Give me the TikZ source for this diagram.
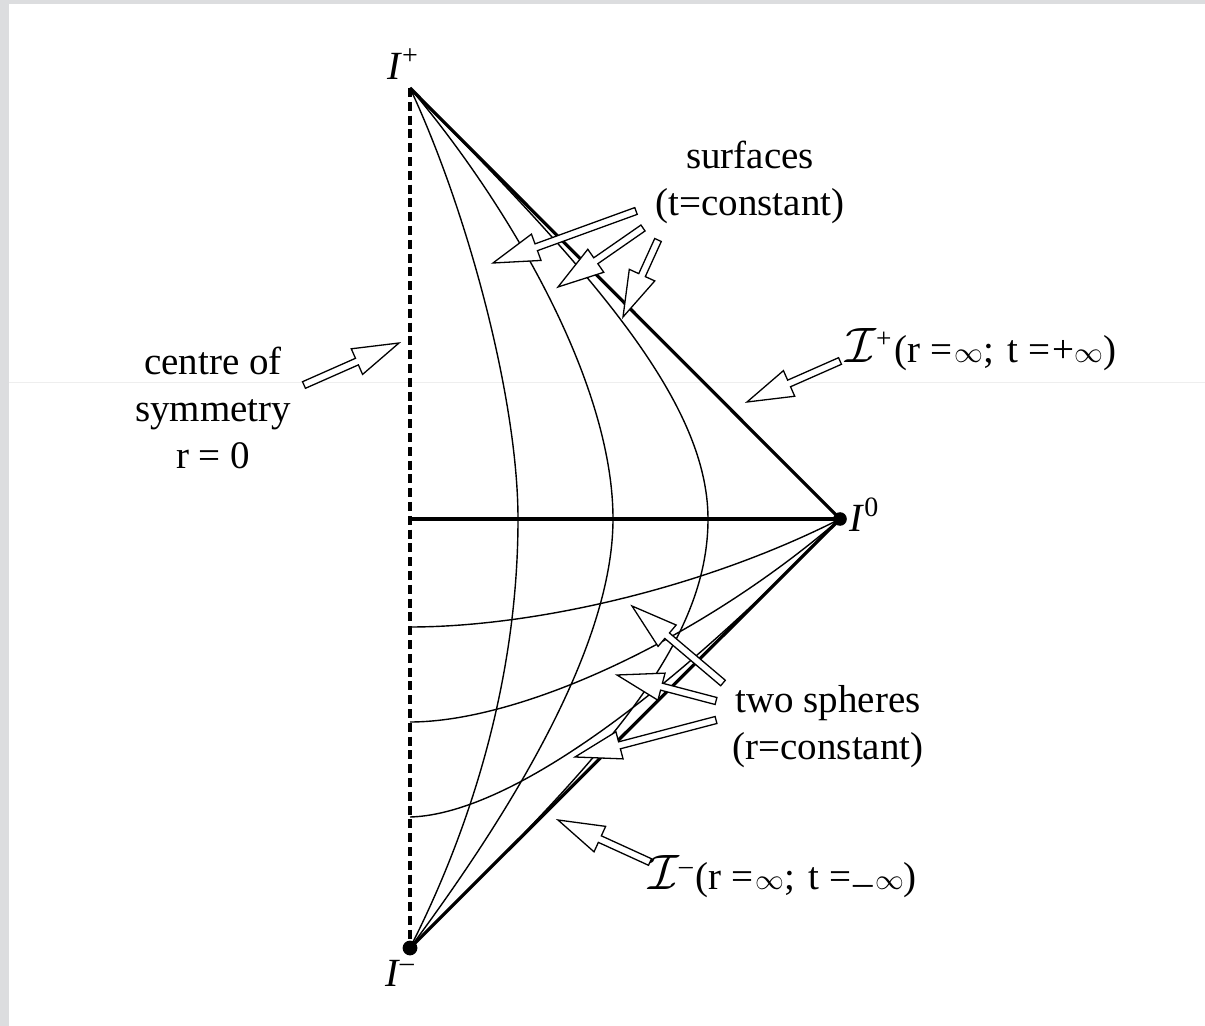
\documentclass[tikz,border=0pt]{standalone}
\usepackage{fontspec}
\setmainfont{Liberation Serif}
\usetikzlibrary{calc}
\definecolor{bordergray}{RGB}{220,221,223}
\definecolor{faintline}{RGB}{238,238,238}
\newcommand\arrHalfW{1.8pt}
\newcommand\arrHeadW{7pt}
\newcommand\arrHeadL{23pt}
\newcommand\holarrow[2]{%
  \coordinate (hbA) at ($(#2)!\arrHeadL!(#1)$);
  \draw[arrowline] ($(#1)!\arrHalfW!90:(#2)$) -- ($(hbA)!\arrHalfW!-90:(#1)$)
    -- ($(hbA)!\arrHeadW!-90:(#1)$) -- (#2) -- ($(hbA)!\arrHeadW!90:(#1)$)
    -- ($(hbA)!\arrHalfW!90:(#1)$) -- ($(#1)!\arrHalfW!-90:(#2)$) -- cycle;}
\newcommand\sinf{{\fontsize{14}{14}\selectfont$\infty$}}
\begin{document}
\begin{tikzpicture}[x=0.5pt,y=-0.5pt,
  thinc/.style={line width=0.7pt},
  edgeline/.style={line width=1.6pt},
  arrowline/.style={draw=black, line width=0.65pt, fill=white, line join=miter},
  lbl/.style={font=\fontsize{19.5}{23.5}\selectfont, inner sep=0pt, align=center},
  ilbl/.style={font=\fontsize{20}{22}\selectfont, inner sep=0pt}]
\useasboundingbox (0,0) rectangle (1205,1026);
\fill[bordergray] (0,0) rectangle (1205,1026);
\fill[white] (9,4) rectangle (1205,1026);
\draw[faintline, line width=0.5pt] (9,383) -- (1205,383);

% key points
\coordinate (Ip) at (410,88);
\coordinate (Iz) at (840,519);
\coordinate (Im) at (410,948);
\coordinate (Oc) at (410,519);

% t-curves (from I+ to I-)
\draw[thinc] (Ip) .. controls (468,212) and (518,400) .. (518,519)
                  .. controls (518,680) and (470,830) .. (Im);
\draw[thinc] (Ip) .. controls (505,200) and (613,380) .. (613,519)
                  .. controls (613,640) and (520,800) .. (Im);
\draw[thinc] (Ip) .. controls (588,268) and (708,400) .. (708,519)
                  .. controls (708,650) and (592,768) .. (Im);
% r-curves (from axis to I0)
\draw[thinc] (410,627) .. controls (530,627) and (700,590) .. (Iz);
\draw[thinc] (410,722) .. controls (520,722) and (700,640) .. (Iz);
\draw[thinc] (410,817) .. controls (490,815) and (630,735) .. (Iz);

% boundaries
\draw[edgeline] (Ip) -- (Iz);
\draw[edgeline] (Oc) -- (Iz);
\draw[edgeline] (Im) -- (Iz);
\draw[line width=1.8pt, dash pattern=on 4.5pt off 2.4pt] (Ip) -- (Im);
\fill (Iz) circle (3.4pt);
\fill (Im) circle (3.7pt);

% labels
\node[ilbl] (lp) at (403,64) {\textit{I}\textsuperscript{+}};
\node[ilbl, anchor=west] (lz) at (849,515) {\textit{I}\textsuperscript{0}};
\node[ilbl] (lm) at (400,973) {\textit{I}\textsuperscript{\textendash}};
\node[lbl] (surf) at (750,182) {surfaces\\(t=constant)};
\node[lbl] (centre) at (213,408) {centre of\\symmetry\\r = 0};
\node[lbl] (spheres) at (828,727) {two spheres\\(r=constant)};
\node[lbl, anchor=west] (scrip) at (845,350)
  {{\fontsize{24}{24}\selectfont$\mathcal{I}$}\textsuperscript{+}\hspace{1pt}(r =\hspace{1pt}\sinf;\hspace{2pt} t =\hspace{1pt}+\sinf)};
\node[lbl, anchor=west] (scrim) at (648,877)
  {{\fontsize{24}{24}\selectfont$\mathcal{I}$}\textsuperscript{\textendash}\hspace{1pt}(r =\hspace{1pt}\sinf;\hspace{2pt} t =\hspace{1pt}\raisebox{-3pt}{\textendash}\hspace{1pt}\sinf)};

% arrows: tail / tip coordinates
\coordinate (c1t) at (304,385); \coordinate (c1h) at (399,343);
\coordinate (s1t) at (636,211); \coordinate (s1h) at (493,263);
\coordinate (s2t) at (643,228); \coordinate (s2h) at (558,287);
\coordinate (s3t) at (658,240); \coordinate (s3h) at (623,317);
\coordinate (p1t) at (840,361); \coordinate (p1h) at (747,402);
\coordinate (r1t) at (723,683); \coordinate (r1h) at (632,606);
\coordinate (r2t) at (716,701); \coordinate (r2h) at (617,675);
\coordinate (r3t) at (716,720); \coordinate (r3h) at (575,757);
\coordinate (m1t) at (650,862); \coordinate (m1h) at (558,820);
\holarrow{c1t}{c1h}
\holarrow{s1t}{s1h}
\holarrow{s2t}{s2h}
\holarrow{s3t}{s3h}
\holarrow{p1t}{p1h}
\holarrow{r1t}{r1h}
\holarrow{r2t}{r2h}
\holarrow{r3t}{r3h}
\holarrow{m1t}{m1h}
\end{tikzpicture}
\end{document}
